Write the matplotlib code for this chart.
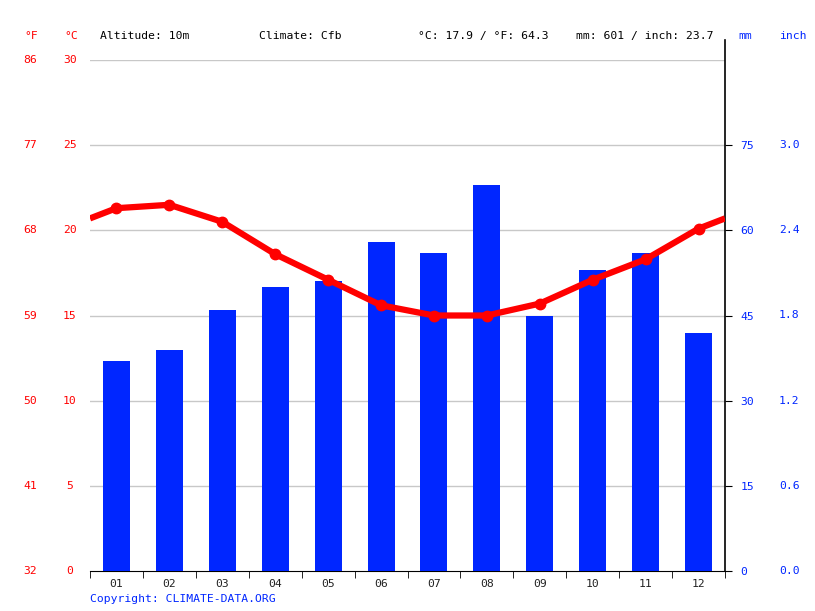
import matplotlib.pyplot as plt
import numpy as np

months = ['01', '02', '03', '04', '05', '06', '07', '08', '09', '10', '11', '12']
precip_mm = [37, 39, 46, 50, 51, 58, 56, 68, 45, 53, 56, 42]
temp_c = [21.3, 21.5, 20.5, 18.6, 17.1, 15.6, 15.0, 15.0, 15.7, 17.1, 18.3, 20.1]

c_ticks = [0, 5, 10, 15, 20, 25, 30]
f_labels = ['32', '41', '50', '59', '68', '77', '86']
mm_ticks = [0, 15, 30, 45, 60, 75]
inch_labels = ['0.0', '0.6', '1.2', '1.8', '2.4', '3.0']

red = '#ff0000'
blue = '#0026ff'
font = 'DejaVu Sans Mono'
fs = 8.2

fig = plt.figure(figsize=(8.15, 6.11), dpi=100)
ax = fig.add_axes([90/815, 1-571/611, 635/815, 511/611])
ax2 = ax.twinx()

x = np.arange(1, 13)

# precipitation bars on the right (mm) axis
ax2.bar(x, precip_mm, width=0.51, color=blue, zorder=2)
ax2.set_ylim(0, 90)

# temperature line, wrapped at both ends between Dec and Jan
edge = (temp_c[0] + temp_c[-1]) / 2
lx = np.concatenate([[0.5], x, [12.5]])
ly = np.concatenate([[edge], temp_c, [edge]])
ax3 = ax2.twinx()
ax3.set_ylim(0, 30)
ax3.plot(lx, ly, color=red, lw=4.5, zorder=4, solid_capstyle='butt')
ax3.plot(x, temp_c, 'o', color=red, ms=7.5, zorder=5)
ax3.axis('off')
ax2.yaxis.tick_right()

for a in (ax, ax2, ax3):
    a.set_xlim(0.5, 12.5)
ax.set_ylim(0, 30)

# grid lines
for c in c_ticks[1:]:
    ax.axhline(c, color='#c8c8c8', lw=1, zorder=0)

ax.set_yticks(c_ticks)
ax.set_yticklabels([])
ax.tick_params(axis='y', length=0)
blend_left = ax.get_yaxis_transform().__class__(fig.transFigure, ax.transData)
for c, f in zip(c_ticks, f_labels):
    ax.text(30/815, c, f, color=red, fontsize=fs, family=font, ha='center', va='center',
            transform=blend_left)
    ax.text(70/815, c, str(c), color=red, fontsize=fs, family=font, ha='center', va='center',
            transform=blend_left)

# x axis: labels at month centers, ticks at boundaries
ax.set_xticks(x)
ax.set_xticklabels(months, family=font, fontsize=fs, color='#222222')
ax.tick_params(axis='x', length=0, pad=6)
ax.set_xticks(np.arange(0.5, 13.0, 1), minor=True)
ax.tick_params(axis='x', which='minor', length=5, direction='out', color='black')

for s in ['top', 'left', 'right']:
    ax.spines[s].set_visible(False)
    ax2.spines[s].set_visible(False)
ax.spines['bottom'].set_color('black')
ax2.spines['bottom'].set_visible(False)

# right axis: mm and inch
ax2.set_yticks(mm_ticks)
ax2.set_yticklabels([str(m) for m in mm_ticks], color=blue, family=font, fontsize=fs)
ax2.tick_params(axis='y', length=5, direction='out', color='black', pad=6)
blend = ax.get_yaxis_transform().__class__(fig.transFigure, ax2.transData)
for m, i in zip(mm_ticks, inch_labels):
    ax2.text(779/815, m, i, color=blue, fontsize=fs, family=font, ha='left', va='center',
             transform=blend)
ax2.plot([12.5, 12.5], [0, 90 + 20/5.68], color='black', lw=1.2, clip_on=False, zorder=6)

# header texts
def top(xp, s, color='black'):
    fig.text(xp/815, 1-36/611, s, color=color, fontsize=fs, family=font, ha='left', va='center')

top(24, '°F', red)
top(64, '°C', red)
top(100, 'Altitude: 10m')
top(259, 'Climate: Cfb')
top(418, '°C: 17.9 / °F: 64.3')
top(576, 'mm: 601 / inch: 23.7')
top(738, 'mm', blue)
top(779, 'inch', blue)
fig.text(90/815, 1-599/611, 'Copyright: CLIMATE-DATA.ORG', color=blue, fontsize=fs, family=font, ha='left', va='center')

fig.savefig('out.png', dpi=100)
